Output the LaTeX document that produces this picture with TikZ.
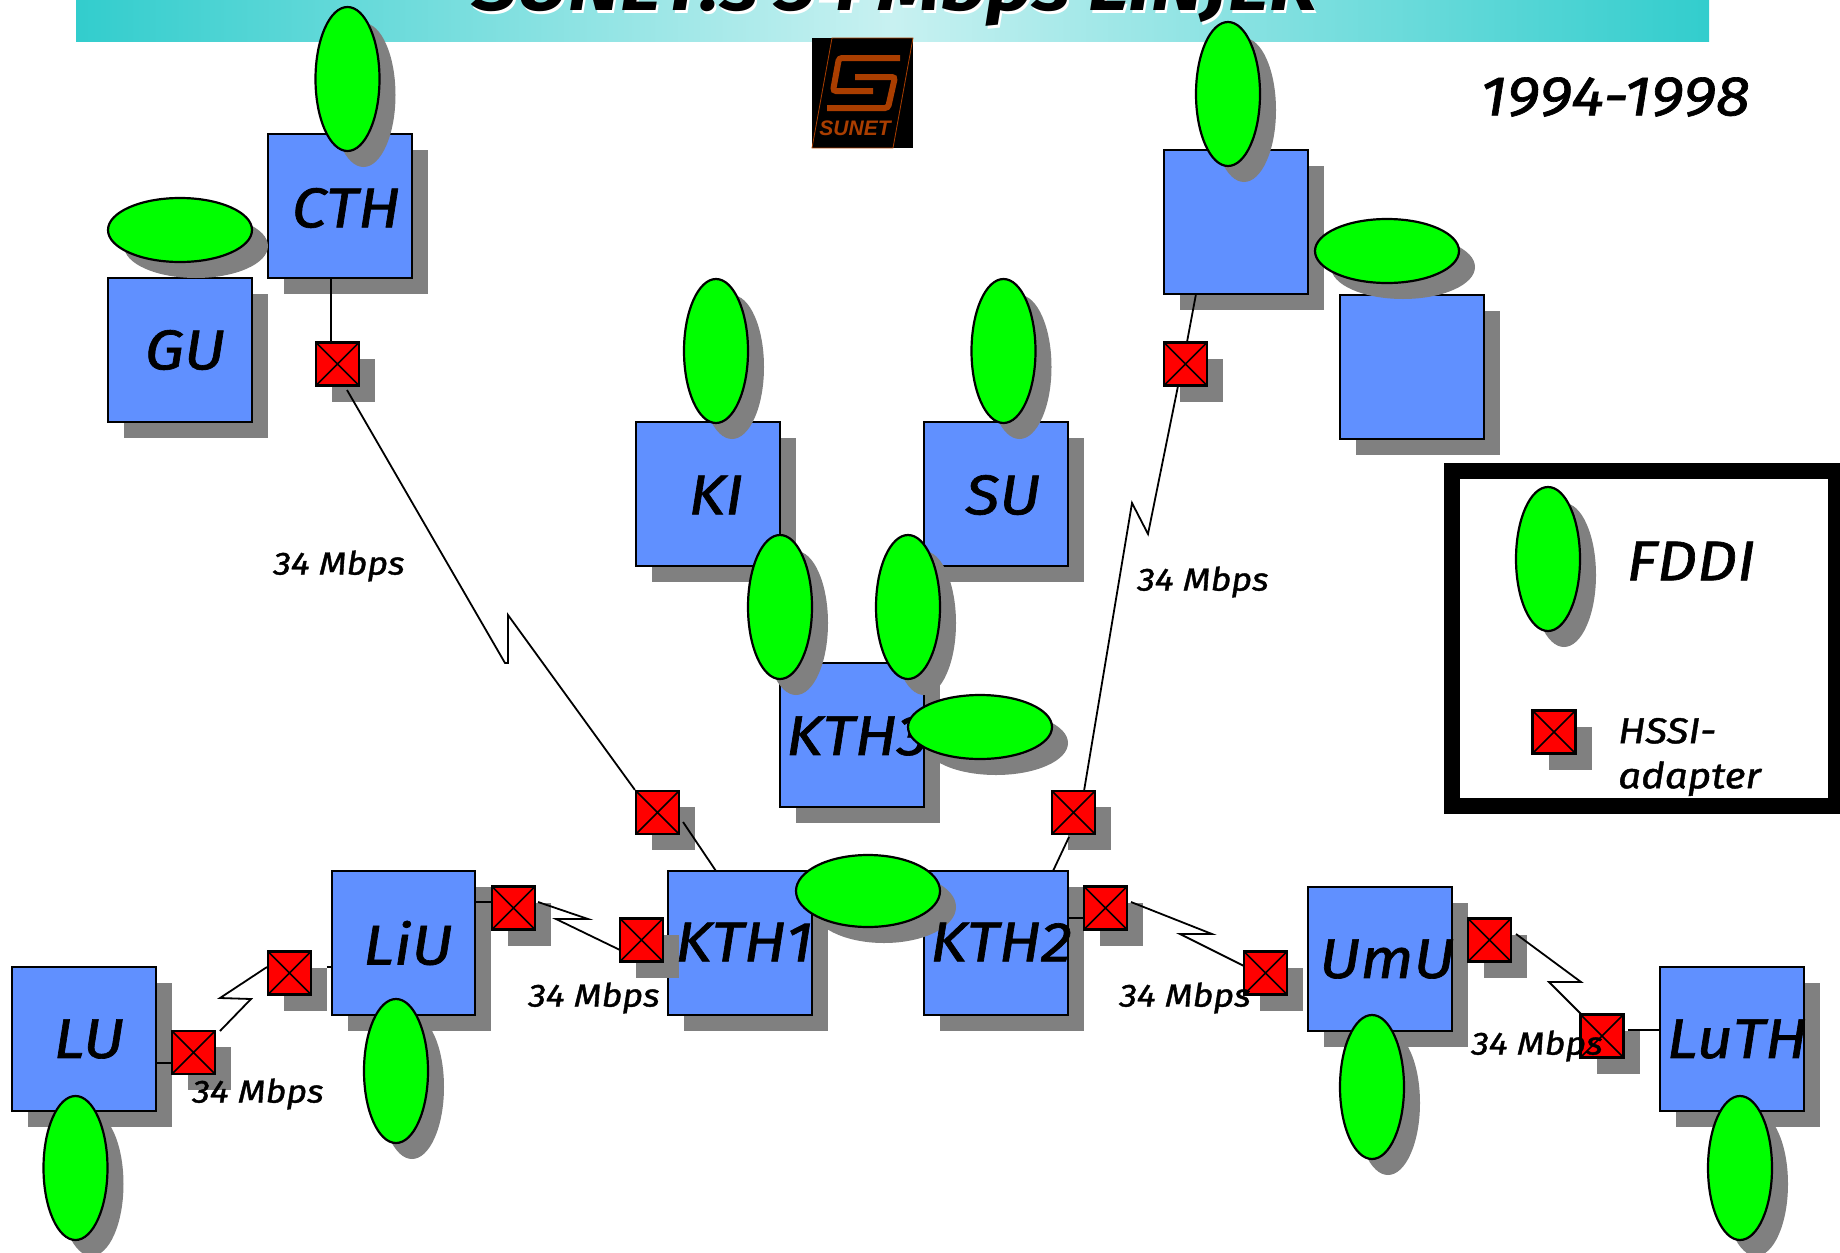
\documentclass[tikz,border=0pt]{standalone}
\usepackage{fontspec}
\setmainfont[ItalicFeatures={FakeStretch=1.12,FakeBold=1.2},BoldItalicFeatures={FakeStretch=1.12}]{Fira Sans}
\newfontfamily\logofont{Liberation Sans}
\definecolor{siteblue}{RGB}{96,144,255}
\definecolor{fddigreen}{RGB}{0,255,0}
\definecolor{hssired}{RGB}{255,0,0}
\definecolor{shadowgray}{RGB}{128,128,128}
\definecolor{bandteal}{RGB}{50,205,205}
\definecolor{bandlight}{RGB}{200,241,241}
\definecolor{logobrown}{RGB}{170,62,0}
\usetikzlibrary{shapes.geometric,shadows,positioning,calc}
\tikzset{
  graydrop/.style={drop shadow={shadow xshift=16pt, shadow yshift=-16pt, fill=shadowgray, opacity=1}},
  sitebox/.style={rectangle, draw=black, line width=2.2pt, fill=siteblue, minimum size=143.5pt, inner sep=0pt, graydrop},
  fddiv/.style={ellipse, draw=black, line width=2.2pt, fill=fddigreen, minimum width=64pt, minimum height=144pt, inner sep=0pt, graydrop},
  fddih/.style={ellipse, draw=black, line width=2.2pt, fill=fddigreen, minimum width=144pt, minimum height=64pt, inner sep=0pt, graydrop},
  hssibox/.style={rectangle, draw=black, line width=2.2pt, fill=hssired, minimum size=43pt, inner sep=0pt, graydrop,
    path picture={\draw[line width=1.6pt] (path picture bounding box.north west) -- (path picture bounding box.south east)
      (path picture bounding box.north east) -- (path picture bounding box.south west);}},
  link/.style={draw=black, line width=1.8pt},
  sitelabel/.style={font=\fontsize{56}{60}\selectfont\itshape, inner sep=0pt},
  speedlabel/.style={font=\fontsize{32}{36}\selectfont\itshape, inner sep=0pt},
}

\begin{document}
\begin{tikzpicture}[x=1pt, y=-1pt]
  \useasboundingbox (0,0) rectangle (1840,1253);

  % Title band
  \shade[left color=bandteal, right color=bandteal, middle color=bandlight] (76,0) rectangle (1709,41);
  \node[white, font=\fontsize{71}{75}\selectfont\bfseries\itshape, anchor=base, inner sep=0pt] (titleback) at (897,13) {SUNET:s 34 Mbps LINJER};
  \node[black, font=\fontsize{71}{75}\selectfont\bfseries\itshape, anchor=base, inner sep=0pt] (title) at (895,10) {SUNET:s 34 Mbps LINJER};

  % Logo
  \fill[black] (812,38) rectangle (913,148);
  \draw[logobrown, line width=0.8pt] (832,38) -- (913,38) -- (893,148) -- (812,148) -- cycle;
  \draw[logobrown, line width=6pt, rounded corners=3pt] (900,58) -- (839,58) -- (833,91) -- (873,91);
  \draw[logobrown, line width=6pt, rounded corners=3pt] (855,77) -- (895,77) -- (888,108) -- (827,108);
  \node[logobrown, font=\fontsize{21}{22}\logofont\bfseries\itshape, inner sep=0pt] (logotext) at (855,128) {SUNET};

  % Year
  \node[font=\fontsize{56}{60}\selectfont\itshape, inner sep=0pt] (years) at (1615,97) {1994-1998};

  % Sites
  \node[sitebox] (CTH) at (340,206) {};
  \node[sitebox] (GU) at (180,350) {};
  \node[sitebox] (KI) at (708,494) {};
  \node[sitebox] (SU) at (996,494) {};
  \node[sitebox] (KTH3) at (852,735) {};
  \node[sitelabel] (lKTH3) at (857,736) {KTH3};
  \node[sitebox] (KTH1) at (740,943) {};
  \node[sitebox] (KTH2) at (996,943) {};
  \node[sitebox] (LiU) at (403.5,943) {};
  \node[sitebox] (LU) at (84,1039) {};
  \node[sitebox] (UmU) at (1380,959) {};
  \node[sitebox] (LuTH) at (1732,1039) {};
  \node[sitebox] (NoNameA) at (1236,222) {};
  \node[sitebox] (NoNameB) at (1412,367) {};

  % FDDI rings
  \node[fddiv] (fCTH) at (347.5,79) {};
  \node[fddih] (fGU) at (180,230) {};
  \node[fddiv] (fKI) at (716,351) {};
  \node[fddiv] (fSU) at (1003.5,351) {};
  \node[fddiv] (fKTHa) at (780,607) {};
  \node[fddiv] (fKTHb) at (908,607) {};
  \node[fddih] (fKTHc) at (980,727) {};
  \node[fddih, minimum height=72pt] (fKTHd) at (868,891) {};
  \node[fddiv] (fLiU) at (396,1071) {};
  \node[fddiv] (fLU) at (75.5,1168) {};
  \node[fddiv] (fUmU) at (1372,1087) {};
  \node[fddiv] (fLuTH) at (1740,1168) {};
  \node[fddiv] (fNoNameA) at (1228,94) {};
  \node[fddih] (fNoNameB) at (1387,251) {};

  % HSSI adapters
  \node[hssibox] (hCTH) at (337.5,364) {};
  \node[hssibox] (hNoName) at (1185.5,364) {};
  \node[hssibox] (hKTHa) at (657.5,812.5) {};
  \node[hssibox] (hKTHb) at (1073.5,812.5) {};
  \node[hssibox] (hLiUb) at (513.5,908) {};
  \node[hssibox] (hKTHc) at (641.5,940) {};
  \node[hssibox] (hKTHd) at (1105.5,908) {};
  \node[hssibox] (hUmUa) at (1265.5,973) {};
  \node[hssibox] (hLiUa) at (289.5,973) {};
  \node[hssibox] (hLU) at (193.5,1052.5) {};
  \node[hssibox] (hUmUb) at (1489.5,940) {};
  \node[hssibox] (hLuTH) at (1602,1036) {};

  % Link ends
  \coordinate (cCTH) at (331,278);
  \coordinate (gCTH) at (347,390);
  \coordinate (gKTHa) at (683,822);
  \coordinate (cKTH1) at (716,871);
  \coordinate (cNoName) at (1196,294);
  \coordinate (tNoName) at (1187,342);
  \coordinate (gNoName) at (1178,386);
  \coordinate (tKTHb) at (1084,791);
  \coordinate (gKTHb) at (1069,837);
  \coordinate (cKTH2) at (1053,871);
  \coordinate (cLU) at (156,1063);
  \coordinate (gLU) at (220,1031);
  \coordinate (tLiUa) at (267,967);
  \coordinate (gLiUa) at (327,967);
  \coordinate (cLiU) at (475,902);
  \coordinate (gLiUb) at (538,902);
  \coordinate (tKTHc) at (620,950);
  \coordinate (cKTH2b) at (1068,918);
  \coordinate (gKTHd) at (1131,902);
  \coordinate (tUmUa) at (1244,966);
  \coordinate (gUmUb) at (1516,934);
  \coordinate (tLuTH) at (1581,1014);
  \coordinate (gLuTH) at (1628,1030);

  % Links
  \draw[link] (cCTH) -- (cCTH |- hCTH.north);
  \draw[link] (gCTH) -- (505,663) -- (508,663) -- (508,615) -- (hKTHa.north west);
  \draw[link] (gKTHa) -- (cKTH1);
  \draw[link] (cNoName) -- (tNoName);
  \draw[link] (gNoName) -- (1148,534) -- (1132,503) -- (tKTHb);
  \draw[link] (gKTHb) -- (cKTH2);
  \draw[link] (cLU) -- (cLU -| hLU.west);
  \draw[link] (gLU) -- (251,999) -- (220,998) -- (tLiUa);
  \draw[link] (gLiUa) -- (LiU.west |- gLiUa);
  \draw[link] (cLiU) -- (cLiU -| hLiUb.west);
  \draw[link] (gLiUb) -- (588,919) -- (556,919) -- (tKTHc);
  \draw[link] (cKTH2b) -- (cKTH2b -| hKTHd.west);
  \draw[link] (gKTHd) -- (1212,934) -- (1180,934) -- (tUmUa);
  \draw[link] (gUmUb) -- (1581,982) -- (1549,982) -- (tLuTH);
  \draw[link] (gLuTH) -- (LuTH.west |- gLuTH);

  % Site names
  \node[sitelabel] (lCTH) at (346,208) {CTH};
  \node[sitelabel] (lGU) at (185,350) {GU};
  \node[sitelabel] (lKI) at (716,495) {KI};
  \node[sitelabel] (lSU) at (1003,495) {SU};
  \node[sitelabel] (lKTH1) at (744,942) {KTH1};
  \node[sitelabel] (lKTH2) at (1001,942) {KTH2};
  \node[sitelabel] (lLiU) at (408,943) {LiU};
  \node[sitelabel] (lLU) at (89,1039) {LU};
  \node[sitelabel] (lUmU) at (1387,959) {UmU};
  \node[sitelabel] (lLuTH) at (1737,1039) {LuTH};

  % Speeds
  \node[speedlabel] (sA) at (339,566) {34 Mbps};
  \node[speedlabel] (sB) at (1203,582) {34 Mbps};
  \node[speedlabel] (sC) at (594,998) {34 Mbps};
  \node[speedlabel] (sD) at (1185,998) {34 Mbps};
  \node[speedlabel] (sE) at (1537,1046) {34 Mbps};
  \node[speedlabel] (sF) at (258,1094) {34 Mbps};

  % Legend
  \draw[black, line width=16pt] (1452,471) rectangle (1836,806);
  \node[fddiv] (fLegend) at (1548,559) {};
  \node[hssibox] (hLegend) at (1554,732) {};
  \node[sitelabel] (lFDDI) at (1691,561) {FDDI};
  \node[font=\fontsize{36}{45}\selectfont\itshape, inner sep=0pt, anchor=west, align=left] (lHSSI) at (1618,757) {HSSI-\\adapter};
\end{tikzpicture}
\end{document}
